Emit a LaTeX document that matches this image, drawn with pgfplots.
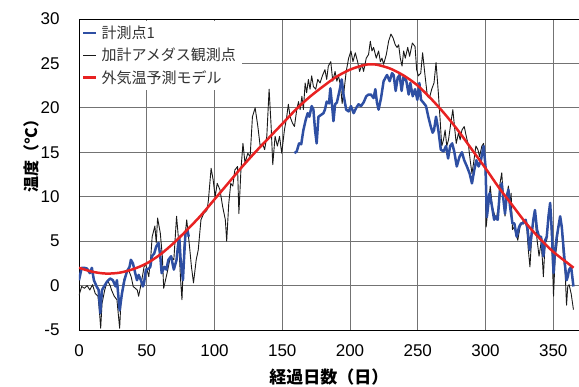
\documentclass[border=0pt]{standalone}
\usepackage{fontspec}
\setmainfont{Liberation Sans}
\newfontfamily\cjk{Noto Sans CJK JP}
\usepackage{pgfplots}
\pgfplotsset{compat=1.18}
\definecolor{myblue}{RGB}{46,79,163}
\definecolor{myred}{RGB}{232,34,34}
\definecolor{myblack}{RGB}{25,25,25}
\begin{document}
\begin{tikzpicture}
\begin{axis}[
  at={(0,0)}, anchor=south west,
  scale only axis, width=500pt, height=311pt,
  xmin=0, xmax=369, ymin=-5, ymax=30,
  xtick={0,50,...,350}, ytick={-5,0,...,30},
  grid=major, major grid style={black!55, line width=0.8pt},
  axis line style={black, line width=0.9pt},
  major tick length=0pt,
  tick label style={font=\fontsize{17}{17}\selectfont},
  /pgf/number format/assume math mode=true,
  xticklabel style={yshift=-11pt},
  yticklabel style={xshift=-16pt},
  xlabel={\cjk\bfseries 経過日数（日）},
  xlabel style={at={(axis description cs:0.5,0)}, anchor=center, yshift=-47pt, font=\fontsize{17}{17}\selectfont},
  ylabel={\cjk\bfseries 温度（°C）},
  ylabel style={at={(axis description cs:0,0.572)}, anchor=center, rotate=0, yshift=48pt, font=\fontsize{16}{16}\selectfont},
  legend style={at={(axis description cs:0,1)}, anchor=north west, xshift=1pt, yshift=-2pt,
    fill=white, draw=none, font=\cjk\fontsize{15}{15}\selectfont, text=black!80,
    inner xsep=2pt, inner ysep=1pt, nodes={inner sep=4pt}},
  legend cell align=left,
  legend image code/.code={\draw[#1] (0pt,0pt) -- (13pt,0pt);},
]
\addlegendimage{myblue, line width=2.5pt}
\addlegendentry{計測点1}
\addlegendimage{myblack, line width=1pt}
\addlegendentry{加計アメダス観測点}
\addlegendimage{myred, line width=2.5pt}
\addlegendentry{外気温予測モデル}

% black: AMeDAS
\addplot[forget plot, myblack, line width=0.9pt, line join=round] coordinates {
(0,-1.1)(2,-0.1)(4,-0.3)(6,0.0)(8,-0.5)(10,0.1)(12,-0.9)(14,-1.2)(15,-2.7)(16,-4.8)
(17,-2.0)(19,-0.5)(21,0.6)(23,0.0)(24,-0.5)(26,-1.2)(28,-1.6)(30,-4.8)(31,-1.6)(33,0.6)
(35,1.4)(36.5,1.8)(38.5,1.0)(40,-0.1)(43,-0.5)(44,-1.2)(46,0.3)(48,2.1)(49,2.5)(51.5,1.0)
(53,3.3)(54,5.5)(56,6.7)(57,4.8)(58,7.6)(60,5.9)(61.5,3.3)(62.5,-0.3)(65,1.4)(67.5,3.3)
(70,2.9)(72,7.8)(73.5,5.1)(75,0.6)(76,-1.6)(77.5,4.5)(79.5,7.4)(81.5,4.5)(83,2.1)(84.5,0.3)
(86.5,2.9)(88,4.0)(90,7.4)(92,8.1)(94.5,8.5)(95.5,9.6)(97.5,13.2)(99,11.9)(100.5,10.0)(102,11.5)
(104,10.8)(106,8.9)(108,7.4)(109,5.0)(110.5,9.2)(112,11.5)(113.5,11.2)(115,13.0)(117,13.4)(118,8.1)
(119.5,13.0)(121,16.0)(122.5,13.8)(124.6,14.9)(126.3,14.5)(128,19.0)(130,20.0)(132,17.9)(133.7,15.7)(135.4,16.0)
(137,15.3)(138.6,16.8)(140.3,22.1)(141.8,17.9)(143,13.6)(144.7,16.8)(146.4,15.7)(148,16.8)(149.6,14.9)(151.6,17.5)
(153.3,19.0)(154.5,20.4)(155.8,19.0)(157.5,18.3)(159,17.9)(160.7,19.8)(162,20.7)(163.2,19.8)(164.5,21.3)(165.6,19.8)
(166.9,22.8)(168,21.7)(169.3,23.2)(170.5,22.1)(171.7,23.6)(173,22.4)(174.7,22.1)(176.2,23.2)(177.9,22.8)(179.6,23.6)
(181.5,24.3)(182.8,23.2)(184,24.7)(185.8,25.2)(187.3,23.0)(189,24.1)(190.3,23.0)(191.5,23.6)(193,22.5)(194.2,20.5)
(195.5,21.8)(197.2,24.1)(199,25.6)(200.7,26.4)(202.2,25.2)(203.9,26.2)(205.6,25.2)(207.1,24.1)(208.8,24.9)(210,24.1)
(212,25.6)(213.7,26.0)(215,27.5)(216.2,26.4)(217.4,26.8)(219.4,25.6)(221.1,26.4)(222.4,25.2)(223.6,25.6)(224.8,24.9)
(226.8,26.0)(228.5,27.5)(230.2,28.3)(231.7,27.9)(233.4,27.1)(234.7,26.8)(235.9,27.1)(237.1,25.6)(238.4,24.7)(239.6,26.4)
(240.8,25.6)(242.6,26.8)(244,25.8)(246,27.3)(248,26.9)(249.2,24.3)(250.4,23.6)(252.2,23.9)(253.6,26.2)(255.4,23.6)
(257.1,21.3)(258.6,21.1)(260.3,22.1)(262,22.8)(263.5,25.1)(265,22.1)(266.5,18.7)(267.7,15.7)(269,16.4)(270.2,17.5)
(271.4,15.7)(272.7,16.4)(274.4,18.3)(275.9,19.8)(277.1,17.9)(278.4,16.0)(280.1,17.2)(281.3,16.4)(282.6,17.5)(284.3,17.9)
(285.8,16.8)(287.5,15.7)(288.7,14.1)(290,12.6)(291.2,13.8)(292.9,15.7)(294.4,15.3)(295.6,14.5)(297.3,15.7)(298.6,16.0)
(299.8,14.1)(300.5,6.6)(302.2,9.3)(303.5,11.2)(305,8.9)(306.4,8.1)(307.9,7.4)(309.5,8.9)(310.7,11.5)(312,12.7)
(313.2,9.7)(314.4,7.8)(315.6,10.0)(316.9,11.2)(318.1,9.3)(318.9,10.4)(319.9,6.3)(321.3,6.6)(322.3,5.9)(323.8,5.1)
(325.5,6.6)(326.7,7.0)(328.7,7.4)(330.4,6.6)(331.6,4.0)(332.8,2.1)(334.1,5.5)(335.3,7.4)(336.5,7.8)(337.8,5.5)
(339.5,3.3)(341,4.8)(342,2.9)(342.7,1.0)(344,4.8)(345.2,5.1)(346.5,8.1)(347.7,8.9)(348.9,4.8)(350.2,-1.2)
(351.4,3.3)(352.6,4.4)(353.8,6.6)(355.1,7.4)(356.3,6.3)(357.5,3.3)(358.8,1.4)(359.8,-2.2)(360.7,-0.1)(361.7,0.1)
(363.2,-0.9)(364.9,-2.7)
};

% blue: measurement point 1, part 1
\addplot[forget plot, myblue, line width=2.5pt, line join=round] coordinates {
(0,0.6)(2,2.0)(4,2.0)(6,1.9)(8,1.4)(9.5,2.0)(11,0.6)(13,-0.1)(14.5,-0.5)(15.7,-3.1)
(17,-0.5)(18.5,-0.1)(20.5,0.4)(23,0.8)(25,0.6)(27,-0.1)(28,0.6)(30,-2.8)(31.7,-0.9)(33.5,0.6)
(35.4,1.6)(37.3,2.1)(38.3,2.9)(39.8,2.5)(41.5,1.4)(42.8,0.6)(44,1.2)(45.7,0.6)(47.2,-0.1)(48,0.3)
(49.4,1.8)(51.4,1.9)(52.6,2.1)(53.8,3.3)(55.5,3.6)(57,4.4)(58.7,4.8)(60,3.3)(61,1.4)(63,2.1)
(64.4,1.8)(66,2.9)(68,3.3)(69,2.5)(70,1.8)(72,2.9)(73,4.4)(74,5.5)(75,2.9)(76.7,0.6)
(77.6,3.3)(78.6,5.9)(80,6.3)(81,5.5)
};
% blue part 2
\addplot[forget plot, myblue, line width=2.5pt, line join=round] coordinates {
(159,14.9)(160.7,15.1)(162.4,16.0)(164,15.9)(165.6,17.5)(167.4,18.7)(168.8,19.4)(170,19.0)(171.7,20.2)(173,19.8)
(174.2,17.5)(175.4,16.0)(176.7,19.0)(178.6,19.2)(180.4,19.4)(181.5,19.8)(182.8,20.7)(184.5,20.5)(185.5,22.2)(186.5,20.7)
(187.8,18.5)(189,20.4)(190.3,20.6)(192.2,21.9)(193.9,23.2)(195.2,21.5)(197.2,19.8)(199,19.6)(200.7,20.2)(202.7,19.4)
(204.6,20.0)(206.3,20.4)(208.1,20.2)(210,20.6)(212,21.3)(213.7,21.5)(215.4,21.5)(217.4,21.1)(218.7,22.1)(219.9,20.6)
(221.1,19.8)(222.9,21.1)(224.8,23.0)(227.3,23.7)(229.3,23.0)(231,23.9)(232.2,23.7)(233.7,21.9)(235.2,23.4)(236.6,23.7)
(238.1,21.9)(239.6,23.6)(241.6,23.0)(243.3,21.5)(244.5,22.8)(246.3,21.3)(248,22.1)(249.7,20.9)(251.2,22.8)(252.4,20.9)
(254.1,20.6)(256.1,20.2)(257.8,19.0)(259.6,17.9)(261,17.2)(262,17.5)(263.5,19.0)(265.2,17.5)(267,15.3)(269,15.1)
(270.9,15.7)(272.4,14.3)(273.9,15.7)(275.4,16.0)(276.9,15.1)(278.8,13.4)(280.8,14.5)(282.6,15.0)(284.3,14.1)(286.3,13.4)
(288.3,12.6)(290,11.5)(291.7,13.0)(293.2,14.1)(294.9,13.4)(296.6,14.1)(298.6,15.7)(300,13.4)(301,7.7)(303,10.4)
(304.8,8.9)(306.4,7.4)(307,7.8)(309,7.4)(310.7,10.8)(312,11.5)(313.2,9.7)(314.4,8.1)(315.6,10.0)(316.9,10.8)
(318.1,8.9)(319.9,7.0)(321.3,7.0)(323,5.5)(324.8,6.6)(326.2,7.0)(327.9,7.0)(329.6,7.4)(331.1,6.3)(332.6,4.0)
(334.1,5.9)(335.3,7.4)(336.5,8.5)(338,6.3)(339.5,5.5)(341,5.5)(342.7,3.3)(344,5.1)(345.2,5.5)(346.5,7.8)
(347.7,9.3)(348.9,6.3)(350.2,1.4)(351.4,4.0)(352.6,5.5)(353.8,6.6)(355.1,7.8)(356.3,6.6)(357.5,4.4)(358.8,2.1)
(359.8,0.6)(360.7,1.0)(361.7,1.8)(363.2,2.1)(364.9,-0.1)
};

% red: model
\addplot[forget plot, myred, line width=2.5pt, smooth] coordinates {
(0,2.0)(10,1.55)(20,1.35)(30,1.45)(40,1.85)(50,2.5)(60,3.5)(70,4.8)(80,6.3)(90,7.9)
(100,9.7)(110,11.5)(120,13.3)(130,15.0)(140,16.6)(150,18.2)(160,19.8)(170,21.2)(180,22.4)(190,23.5)
(200,24.3)(210,24.8)(215,24.9)(220,24.85)(230,24.4)(240,23.6)(250,22.5)(260,21.0)(270,19.3)(280,17.4)
(290,15.3)(300,13.2)(310,11.0)(320,9.0)(330,7.0)(340,5.3)(350,3.8)(360,2.6)(365,2.0)
};
\end{axis}
\pgfresetboundingbox
\path (-79pt,-57pt) rectangle (500pt,330pt);
\end{tikzpicture}
\end{document}
